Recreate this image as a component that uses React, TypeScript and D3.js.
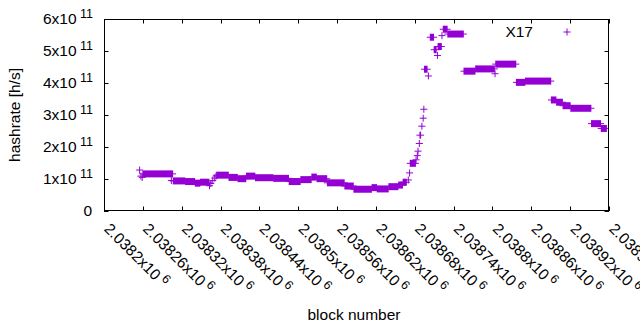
import * as d3 from "d3";

// runs of consecutive blocks that share one hashrate value
const runStart = [
  2038255, 2038257, 2038259, 2038260, 2038304, 2038307, 2038326, 2038341, 2038349, 2038363,
  2038365, 2038368, 2038371, 2038373, 2038374, 2038393, 2038407, 2038420, 2038434, 2038462,
  2038486, 2038504, 2038521, 2038529, 2038545, 2038572, 2038586, 2038614, 2038622, 2038640,
  2038655, 2038662, 2038670, 2038672, 2038673, 2038682, 2038684, 2038685, 2038687, 2038688,
  2038691, 2038693, 2038694, 2038695, 2038701, 2038704, 2038710, 2038715, 2038716, 2038722,
  2038724, 2038731, 2038756, 2038774, 2038804, 2038805, 2038837, 2038851, 2038891, 2038899,
  2038909, 2038921, 2038953, 2038968,
];
const runEnd = [
  2038255, 2038257, 2038259, 2038306, 2038304, 2038325, 2038340, 2038348, 2038362, 2038363,
  2038365, 2038368, 2038371, 2038373, 2038392, 2038406, 2038419, 2038433, 2038461, 2038485,
  2038503, 2038520, 2038528, 2038544, 2038571, 2038585, 2038613, 2038621, 2038639, 2038654,
  2038661, 2038667, 2038670, 2038672, 2038681, 2038682, 2038684, 2038685, 2038687, 2038689,
  2038691, 2038693, 2038694, 2038699, 2038701, 2038709, 2038713, 2038715, 2038721, 2038722,
  2038730, 2038755, 2038773, 2038803, 2038804, 2038836, 2038850, 2038890, 2038898, 2038908,
  2038920, 2038952, 2038967, 2038976,
];
const runHashrate = [
  1.28e11, 1.09e11, 1.05e11, 1.16e11, 0.95e11, 0.94e11, 0.92e11, 0.87e11, 0.9e11, 0.79e11,
  0.86e11, 0.95e11, 1.03e11, 1.09e11, 1.12e11, 1.05e11, 1.01e11, 1.09e11, 1.04e11, 1.02e11,
  0.92e11, 0.98e11, 1.06e11, 1.01e11, 0.88e11, 0.78e11, 0.68e11, 0.73e11, 0.69e11, 0.76e11,
  0.81e11, 0.9e11, 0.97e11, 1.19e11, 1.49e11, 1.6e11, 1.73e11, 1.87e11, 2.11e11, 2.37e11,
  2.65e11, 2.9e11, 3.18e11, 4.43e11, 4.22e11, 5.43e11, 5.04e11, 4.86e11, 5.14e11, 5.48e11,
  5.68e11, 5.53e11, 4.37e11, 4.44e11, 4.29e11, 4.59e11, 4.02e11, 4.06e11, 3.47e11, 3.4e11,
  3.29e11, 3.21e11, 2.73e11, 2.58e11,
];

const xTicks = [
  2038200, 2038260, 2038320, 2038380, 2038440, 2038500, 2038560, 2038620, 2038680, 2038740,
  2038800, 2038860, 2038920, 2038980,
];
const yTicks = [0, 1e11, 2e11, 3e11, 4e11, 5e11, 6e11];
const seriesName = "X17";

const width = 640;
const height = 330;
const marginLeft = 104;
const marginRight = 31;
const marginTop = 19;
const marginBottom = 119;
const color = "#9400d3";
const font = "'Liberation Sans', Arial, sans-serif";
const r = 3.5;

const App = () => {
  const xScale = d3
    .scaleLinear()
    .domain([xTicks[0], xTicks[xTicks.length - 1]])
    .range([marginLeft, width - marginRight]);
  const yScale = d3
    .scaleLinear()
    .domain([0, 6e11])
    .range([height - marginBottom, marginTop]);

  const left = marginLeft;
  const right = width - marginRight;
  const top = marginTop;
  const bottom = height - marginBottom;

  return (
    <svg
      width={width}
      height={height}
      style={{ position: "absolute", left: 0, top: 0, background: "#fff" }}
      fontFamily={font}
    >
      <defs>
        <clipPath id="plot">
          <rect x={left} y={top - r} width={right - left} height={bottom - top + 2 * r} />
        </clipPath>
      </defs>

      {/* ticks, inside and mirrored like gnuplot */}
      <g stroke="#000" strokeWidth={1}>
        {yTicks.map((t) => (
          <g key={"y" + t}>
            <line x1={left} x2={left + 4.5} y1={Math.round(yScale(t)) + 0.5} y2={Math.round(yScale(t)) + 0.5} />
            <line x1={right} x2={right - 4.5} y1={Math.round(yScale(t)) + 0.5} y2={Math.round(yScale(t)) + 0.5} />
          </g>
        ))}
        {xTicks.map((t) => (
          <g key={"x" + t}>
            <line x1={Math.round(xScale(t)) + 0.5} x2={Math.round(xScale(t)) + 0.5} y1={bottom} y2={bottom - 4.5} />
            <line x1={Math.round(xScale(t)) + 0.5} x2={Math.round(xScale(t)) + 0.5} y1={top} y2={top + 4.5} />
          </g>
        ))}
      </g>

      {/* y tick labels */}
      <g fontSize={15.5} fill="#000" textAnchor="end">
        {yTicks.map((t) =>
          t === 0 ? (
            <text key={t} x={92} y={yScale(t) + 5}>0</text>
          ) : (
            <text key={t} x={93} y={yScale(t) + 5}>
              {`${t / 1e11}x10`}
              <tspan fontSize={12.5} dy={-5.7}>{" 11"}</tspan>
            </text>
          )
        )}
      </g>

      {/* x tick labels, rotated */}
      <g fontSize={15.5} fill="#000">
        {xTicks.map((t) => (
          <text key={t} transform={`translate(${xScale(t) + 7},222) rotate(45)`} y={11}>
            {`${+(t / 1e6).toFixed(5)}x10`}
            <tspan fontSize={12.5} dy={-5.7}>{" 6"}</tspan>
          </text>
        ))}
      </g>

      <text x={354} y={320} fontSize={15.5} textAnchor="middle" fill="#000">
        block number
      </text>
      <text
        transform={`translate(20,${(top + bottom) / 2}) rotate(-90)`}
        fontSize={15.5}
        textAnchor="middle"
        fill="#000"
      >
        hashrate [h/s]
      </text>

      {/* points: each run of equal values drawn as overlapping '+' markers */}
      <g clipPath="url(#plot)">
        {runStart.map((s, i) => {
          const x0 = xScale(s);
          const x1 = xScale(runEnd[i]);
          const y = yScale(runHashrate[i]);
          return (
            <g key={i}>
              <rect x={x0 - 0.5} y={y - r} width={x1 - x0 + 1} height={2 * r} fill={color} />
              <line x1={x0 - r} x2={x1 + r} y1={y} y2={y} stroke={color} strokeWidth={1} />
            </g>
          );
        })}
      </g>

      {/* key */}
      <text x={533} y={37} fontSize={15.5} textAnchor="end" fill="#000">
        {seriesName}
      </text>
      <g stroke={color} strokeWidth={1}>
        <line x1={567 - r} x2={567 + r} y1={32} y2={32} />
        <line x1={567} x2={567} y1={32 - r} y2={32 + r} />
      </g>

      <rect
        x={left + 0.5}
        y={top + 0.5}
        width={right - left - 1}
        height={bottom - top - 1}
        fill="none"
        stroke="#000"
        strokeWidth={1}
      />
    </svg>
  );
};

export default App;
